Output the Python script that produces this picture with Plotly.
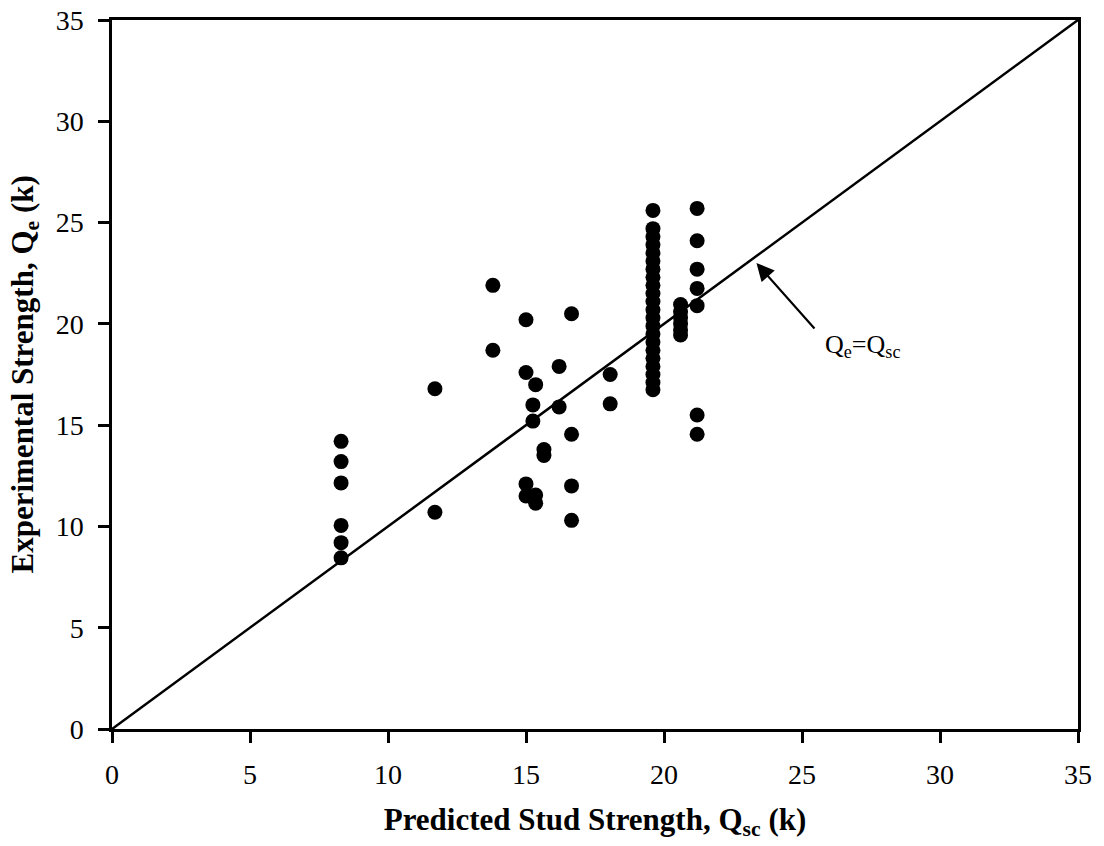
import plotly.graph_objects as go

# Predicted stud strength Qsc (k) and experimental strength Qe (k)
x_pred = (
    [8.3] * 6
    + [11.7] * 2
    + [13.8] * 2
    + [15.0] * 4
    + [15.35] * 3
    + [15.25] * 2
    + [15.65] * 2
    + [16.2] * 2
    + [16.65] * 4
    + [18.05] * 2
    + [19.6] * 22
    + [20.6] * 6
    + [21.2] * 7
)
y_exp = (
    [14.2, 13.2, 12.15, 10.05, 9.2, 8.45]
    + [16.8, 10.7]
    + [21.9, 18.7]
    + [20.2, 17.6, 12.1, 11.5]
    + [17.0, 11.55, 11.15]
    + [16.0, 15.2]
    + [13.8, 13.5]
    + [17.9, 15.9]
    + [20.5, 14.55, 12.0, 10.3]
    + [17.5, 16.05]
    + [25.6, 24.7, 24.3, 23.9, 23.5, 23.1, 22.7, 22.3, 21.9, 21.5, 21.1,
       20.7, 20.3, 19.9, 19.5, 19.1, 18.7, 18.3, 17.9, 17.5, 17.1, 16.75]
    + [20.95, 20.6, 20.3, 20.0, 19.7, 19.45]
    + [25.7, 24.1, 22.7, 21.75, 20.9, 15.5, 14.55]
)
line_x = [0, 35]
line_y = [0, 35]
tick_vals = [0, 5, 10, 15, 20, 25, 30, 35]

FONT = "Liberation Serif"

fig = go.Figure()
fig.add_trace(go.Scatter(x=line_x, y=line_y, mode="lines",
                         line=dict(color="black", width=2.5), showlegend=False))
fig.add_trace(go.Scatter(x=x_pred, y=y_exp, mode="markers",
                         marker=dict(color="black", size=15, line=dict(width=0)),
                         showlegend=False))

# arrow
fig.add_annotation(x=23.35, y=23.0, ax=25.5, ay=19.7, axref="x", ayref="y",
                   xref="x", yref="y", text="", showarrow=True,
                   arrowhead=2, arrowsize=1.6, arrowwidth=2.2, arrowcolor="black",
                   standoff=0, startstandoff=0)
fig.add_annotation(x=27.2, y=18.9, xref="x", yref="y", showarrow=False,
                   text="Q<sub>e</sub>=Q<sub>sc</sub>",
                   font=dict(family=FONT, size=26, color="black"))

# y-axis title placed precisely
fig.add_annotation(x=0, y=0.5, xref="paper", yref="paper", xanchor="center",
                   yanchor="middle", xshift=-88, textangle=-90, showarrow=False,
                   borderpad=0,
                   text="<b>Experimental Strength, Q<sub>e</sub> (k)</b>",
                   font=dict(family=FONT, size=31, color="black"))

axis_common = dict(
    range=[0, 35], tickvals=tick_vals, ticks="outside", ticklen=11, tickwidth=2.5,
    tickcolor="black", showline=True, linecolor="black", linewidth=2.5,
    mirror=True, showgrid=False, zeroline=False, ticklabeloverflow="allow",
    automargin=False,
    tickfont=dict(family=FONT, size=28, color="black"),
)

fig.update_layout(
    width=1104, height=846,
    paper_bgcolor="white", plot_bgcolor="white",
    margin=dict(l=104, r=34, t=12, b=125),
    xaxis=dict(**axis_common, ticklabelstandoff=8,
               title=dict(text="<b>Predicted Stud Strength, Q<sub>sc</sub> (k)</b>",
                          font=dict(family=FONT, size=31, color="black"),
                          standoff=19)),
    yaxis=dict(**axis_common, ticklabelstandoff=9),
)

fig.write_html("out.html")
